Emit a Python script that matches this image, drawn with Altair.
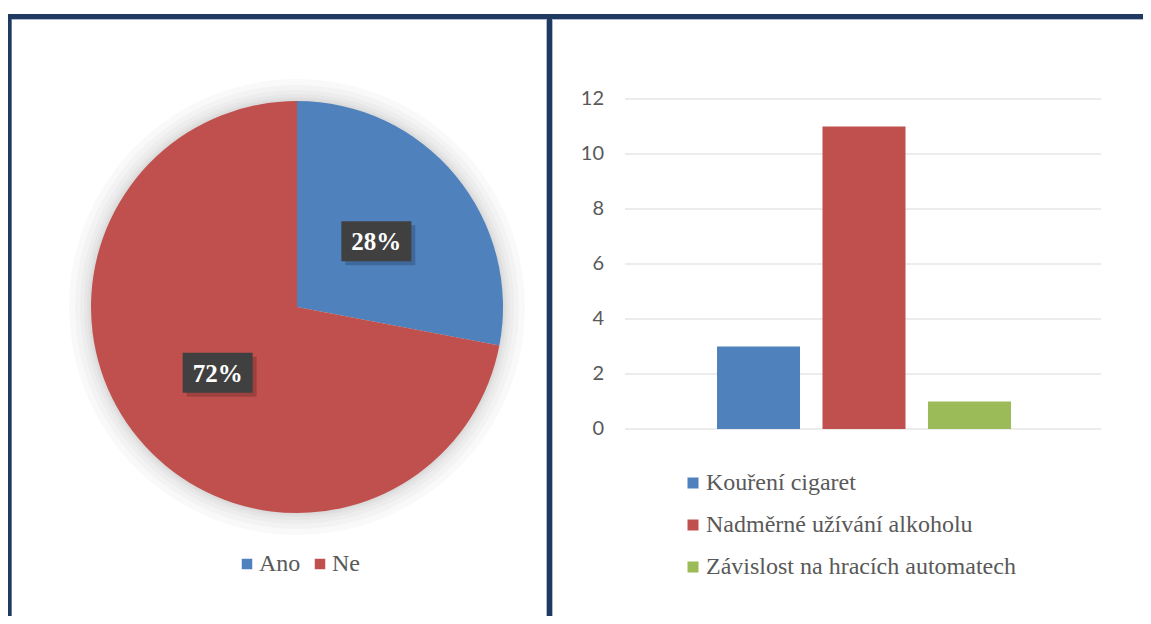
import altair as alt
import pandas as pd

# ---- data ----
pie_labels = ["Ano", "Ne"]
pie_values = [28, 72]
pie_colors = ["#4F81BD", "#C0504D"]

bar_series = ["Kouření cigaret", "Nadměrné užívání alkoholu", "Závislost na hracích automatech"]
bar_values = [3, 11, 1]
bar_colors = ["#4F81BD", "#C0504D", "#9BBB59"]

y_ticks = [0, 2, 4, 6, 8, 10, 12]

pie_df = pd.DataFrame({"odpoved": pie_labels, "procento": pie_values,
                       "poradi": list(range(len(pie_labels)))})
bar_df = pd.DataFrame({"serie": bar_series, "pocet": bar_values})
tick_df = pd.DataFrame({"hodnota": y_ticks})
one = pd.DataFrame({"v": [1]})

# ---- layout (pixels inside the view) ----
W, H = 1135, 608
CX, CY, R = 289, 299, 206
LR = 103
NAVY = "#1F3A60"
LIGHT = "#AEBBD0"
GRAY_TXT = "#595959"

y_scale = alt.Scale(domain=[0, 12], range=[421, 91], nice=False, zero=False)
lx_scale = alt.Scale(domain=[-1, 1], range=[CX - LR, CX + LR], nice=False, zero=False)
ly_scale = alt.Scale(domain=[-1, 1], range=[CY + LR, CY - LR], nice=False, zero=False)


def hrule(y, x1, x2, color, sw):
    return alt.Chart(one).mark_rule(color=color, strokeWidth=sw).encode(
        y=alt.value(y), x=alt.value(x1), x2=alt.value(x2))


def vrule(x, y1, y2, color, sw):
    return alt.Chart(one).mark_rule(color=color, strokeWidth=sw).encode(
        x=alt.value(x), y=alt.value(y1), y2=alt.value(y2))


layers = []

# soft shadow around pie
for k in [22, 16, 11, 7, 4, 2]:
    layers.append(
        alt.Chart(one).mark_arc(color="#000000", opacity=0.022).encode(
            theta=alt.Theta("v:Q"), x=alt.value(CX), y=alt.value(CY),
            radius=alt.value(R + k))
    )

pie = alt.Chart(pie_df).mark_arc().encode(
    theta=alt.Theta("procento:Q", stack=True),
    order=alt.Order("poradi:Q"),
    color=alt.Color("odpoved:N",
                    scale=alt.Scale(domain=pie_labels, range=pie_colors),
                    legend=alt.Legend(orient="none", legendX=227, legendY=544,
                                      direction="horizontal", title=None,
                                      symbolType="square", symbolSize=110,
                                      symbolStrokeWidth=0,
                                      labelFont="Liberation Serif", labelFontSize=24,
                                      labelColor=GRAY_TXT, labelOffset=0,
                                      columnPadding=7, padding=0)),
    x=alt.value(CX), y=alt.value(CY), radius=alt.value(R),
)
layers.append(pie)

lab_base = alt.Chart(pie_df).transform_window(
    cum="sum(procento)", sort=[alt.SortField("poradi")], frame=[None, 0]
).transform_joinaggregate(
    total="sum(procento)"
).transform_calculate(
    mid="(datum.cum - datum.procento/2)/datum.total",
    lx="sin(2*PI*datum.mid)",
    ly="cos(2*PI*datum.mid)",
    txt='datum.procento + "%"',
)

box_path = "M-1,-0.571L1,-0.571L1,0.571L-1,0.571Z"
lab_enc = dict(x=alt.X("lx:Q", scale=lx_scale, axis=None),
               y=alt.Y("ly:Q", scale=ly_scale, axis=None))

layers.append(lab_base.mark_point(shape=box_path, size=4900, filled=True,
                                  color="#000000", opacity=0.18,
                                  xOffset=4, yOffset=4).encode(**lab_enc))
layers.append(lab_base.mark_point(shape=box_path, size=4900, filled=True,
                                  color="#404040", opacity=1).encode(**lab_enc))
layers.append(lab_base.mark_text(font="Liberation Serif", fontSize=25,
                                 fontWeight="bold", color="white",
                                 align="center", baseline="middle", dy=1).encode(
    text="txt:N", **lab_enc))

# bar chart grid and labels
layers.append(alt.Chart(tick_df).mark_rule(color="#D9D9D9", strokeWidth=1).encode(
    y=alt.Y("hodnota:Q", scale=y_scale, axis=None),
    x=alt.value(617), x2=alt.value(1093)))
layers.append(alt.Chart(tick_df).mark_text(align="right", baseline="middle",
                                           font="Lato", fontSize=20,
                                           color=GRAY_TXT).encode(
    y=alt.Y("hodnota:Q", scale=y_scale, axis=None),
    x=alt.value(596), text="hodnota:Q"))

bars = alt.Chart(bar_df).mark_bar().encode(
    x=alt.X("serie:N", axis=None,
            scale=alt.Scale(domain=bar_series, range=[709, 1003],
                            paddingInner=0.213, paddingOuter=0)),
    y=alt.Y("pocet:Q", scale=y_scale, axis=None),
    color=alt.Color("serie:N",
                    scale=alt.Scale(domain=bar_series, range=bar_colors),
                    legend=alt.Legend(orient="none", legendX=673, legendY=463,
                                      direction="vertical", title=None,
                                      symbolType="square", symbolSize=121,
                                      symbolStrokeWidth=0,
                                      labelFont="Liberation Serif", labelFontSize=24,
                                      labelColor=GRAY_TXT, labelOffset=1,
                                      rowPadding=18, labelLimit=600, padding=0)),
)
layers.append(bars)

# panel borders
layers.append(hrule(11.5, 3, W, LIGHT, 1))
layers.append(vrule(3.5, 11, H, LIGHT, 1))
layers.append(vrule(538.5, 11, H, LIGHT, 1))
layers.append(vrule(544.5, 11, H, LIGHT, 1))
layers.append(hrule(8.5, 0, W, NAVY, 5))
layers.append(vrule(1, 6, H, NAVY, 5))
layers.append(vrule(541.5, 6, H, NAVY, 5))

chart = alt.layer(*layers).resolve_scale(
    x="independent", y="independent", color="independent", theta="independent"
).properties(
    width=W, height=H, padding=0,
    autosize=alt.AutoSizeParams(type="none"),
).configure_view(stroke=None)

chart.save("out.html", embed_options={"renderer": "svg", "actions": False})
